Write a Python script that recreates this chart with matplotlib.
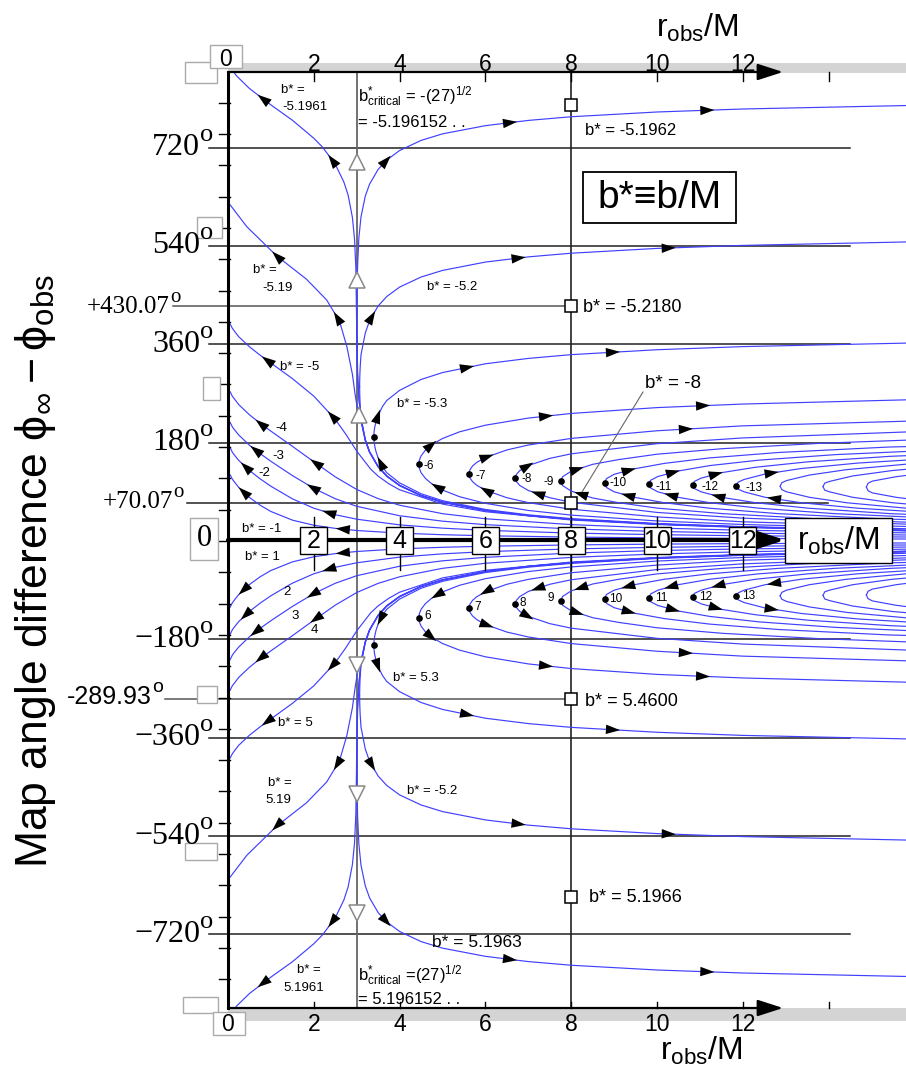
import numpy as np
import matplotlib.pyplot as plt
from matplotlib.patches import Rectangle

plt.rcParams['mathtext.fontset'] = 'custom'
plt.rcParams['mathtext.rm'] = 'Liberation Sans'
plt.rcParams['mathtext.it'] = 'Liberation Sans:italic'
plt.rcParams['mathtext.bf'] = 'Liberation Sans:bold'

SANS = ['Liberation Sans', 'DejaVu Sans']
SERIF = ['Liberation Serif', 'DejaVu Serif']
BLUE = '#4040ff'

# light paths for b* < 0 (upper half), points are (r_obs/M, map angle in degrees)
# the lower half of the chart (b* > 0) is the mirror image
# paths that fall into r = 0, listed from small r outwards
b1 = [(0.05, 121), (0.1, 113.3), (0.15, 108), (0.25, 98), (0.5, 79.7), (0.75, 65.4), (1, 54), (1.5, 38.2),
      (2, 28.9), (2.5, 23.1), (3, 19.2), (4, 14.4), (5, 11.5), (6, 9.6), (8, 7.2), (10, 5.7), (12, 4.8), (15.8, 3.6)]
b2 = [(0.05, 171), (0.1, 162.6), (0.15, 157.2), (0.25, 147.5), (0.5, 128.9), (0.75, 113.7), (1, 100.2), (1.5, 77.2),
      (2, 60), (2.5, 48.1), (3, 39.9), (4, 29.5), (5, 23.5), (6, 19.5), (8, 14.5), (10, 11.6), (12, 9.6), (15.8, 7.3)]
b3 = [(0.05, 217), (0.1, 209), (0.15, 203.7), (0.25, 194), (0.5, 175.2), (0.75, 159.8), (1, 145.8), (1.5, 119.8),
      (2, 96.3), (2.5, 77.4), (3, 63.5), (4, 46.2), (5, 36.3), (6, 29.9), (8, 22.1), (10, 17.5), (12, 14.5), (15.8, 11)]
b4 = [(0.05, 273), (0.1, 265), (0.15, 260), (0.25, 249.6), (0.5, 231), (0.75, 215.2), (1, 201), (1.5, 173.3),
      (2, 145), (2.5, 117.4), (3, 94.3), (3.5, 77.5), (4, 65.5), (5, 50), (6, 40.7), (8, 30), (10, 23.7), (12, 19.7),
      (15.8, 14.9)]
b5 = [(0.05, 397), (0.1, 389.4), (0.15, 384), (0.25, 373.8), (0.5, 355.4), (0.75, 339.9), (1, 325.6), (1.5, 297.2),
      (2, 265.1), (2.5, 222.5), (2.75, 195), (3, 164.5), (3.33, 131.1), (3.5, 118.7), (3.75, 104.7), (4, 93.7),
      (5, 67.6), (6, 53.6), (8, 38.5), (10, 30.2), (12, 24.7), (15.8, 18.5)]
b5_19 = [(0.05, 615), (0.44, 575), (1.13, 522), (1.83, 479), (2.3, 441), (2.6, 402), (2.77, 356), (2.9, 305),
         (2.96, 270), (3.02, 240), (3.1, 219), (3.2, 184), (3.3, 162.3), (3.5, 135.6), (3.7, 118.5), (4, 101.3),
         (4.5, 83), (5, 71), (6, 55.8), (7, 46.3), (8, 39.6), (10, 30.9), (12, 25.4), (15.8, 19.1)]
b5_1961 = [(0.1, 862), (0.2, 851), (0.5, 828), (1, 798), (1.5, 770), (2, 737), (2.2, 721), (2.5, 689.5), (2.7, 657),
           (2.8, 633), (2.9, 592), (2.95, 552), (2.98, 500), (2.995, 420), (3.005, 340), (3.02, 300), (3.05, 262),
           (3.1, 223), (3.2, 184.7), (3.3, 162.7), (3.5, 135.9), (3.7, 118.8), (4, 101.5), (4.5, 83.2), (5, 71.1),
           (6, 55.9), (7, 46.4), (8, 39.7), (10, 31), (12, 25.5), (15.8, 19.2)]

# paths with a turning point: incoming branch and outgoing branch, both from the turning point outwards
b5_1962_in = [(3.007, 408), (3.01, 365), (3.02, 314), (3.05, 262), (3.1, 223), (3.2, 184.7), (3.3, 162.7),
              (3.5, 135.9), (3.7, 118.8), (4, 101.5), (4.5, 83.2), (5, 71.1), (6, 55.9), (7, 46.4), (8, 39.7),
              (10, 31), (12, 25.5), (15.8, 19.2)]
b5_1962_out = [(3.007, 408), (3.01, 451), (3.02, 502), (3.05, 554), (3.1, 593), (3.2, 631), (3.3, 653), (3.5, 680),
               (3.7, 697), (4, 714.5), (4.5, 733), (5, 745), (6, 760), (7, 769.6), (8, 776.3), (10, 785),
               (12, 790.5), (15.8, 796.8)]
b5_2_in = [(3.068, 283), (3.072, 266), (3.08, 250), (3.1, 226), (3.2, 186), (3.3, 163.5), (3.5, 136.5), (3.7, 119.3),
           (4, 102), (4.5, 83.6), (5, 71.5), (6, 56.2), (7, 46.7), (8, 40), (10, 31.2), (12, 25.7), (15.8, 19.4)]
b5_2_out = [(3.068, 283), (3.072, 300.6), (3.08, 316.6), (3.1, 340.6), (3.2, 380.6), (3.3, 403.1), (3.5, 430.1),
            (3.7, 447.3), (4, 464.6), (4.5, 483), (5, 495.1), (6, 510.4), (7, 519.9), (8, 526.6), (10, 535.4),
            (12, 540.9), (15.8, 547.2)]
b5_3_in = [(3.40, 191), (3.405, 182), (3.42, 174), (3.45, 163.5), (3.5, 152), (3.6, 136), (3.7, 125), (4, 106.3),
           (4.5, 86.5), (5, 73.8), (6, 57.7), (7, 47.9), (8, 41), (10, 32), (12, 26.3), (15.8, 19.9)]
b5_3_out = [(3.40, 191), (3.405, 200), (3.42, 208), (3.45, 218.5), (3.5, 230), (3.6, 246), (3.7, 257), (4, 275.7),
            (4.5, 295.5), (5, 308.2), (6, 324.3), (7, 334.1), (8, 341), (10, 350), (12, 355.7), (15.8, 362.1)]
b6_in = [(4.448, 140.4), (4.46, 133.1), (4.5, 125.1), (4.6, 114.7), (4.75, 104.6), (5, 93.2), (5.4, 81), (6, 68.9),
         (7, 55.9), (8, 47.4), (10, 36.7), (12, 30.2), (15.8, 22.5)]
b6_out = [(4.448, 140.4), (4.46, 147.7), (4.5, 155.7), (4.6, 166.1), (4.75, 176.2), (5, 187.6), (5.4, 199.8),
          (6, 211.9), (7, 224.9), (8, 233.4), (10, 244.1), (12, 250.6), (15.8, 258.3)]
b7_in = [(5.618, 122.9), (5.64, 115.5), (5.7, 108.6), (5.8, 101.9), (6, 93), (6.5, 79.2), (7, 70.2), (8, 58.1),
         (10, 44.1), (12, 35.1), (15.8, 26.6)]
b7_out = [(5.618, 122.9), (5.64, 130.3), (5.7, 137.2), (5.8, 143.9), (6, 152.8), (6.5, 166.6), (7, 175.6),
          (8, 187.7), (10, 201.7), (12, 210.7), (15.8, 219.2)]
b8_in = [(6.70, 115.2), (6.72, 108.9), (6.8, 101.7), (7, 92.4), (7.5, 79.2), (8, 70.9), (10, 52.3), (12, 41.8),
         (15.8, 30.9)]
b8_out = [(6.70, 115.2), (6.72, 121.5), (6.8, 128.7), (7, 138), (7.5, 151.2), (8, 159.5), (10, 178.1), (12, 188.6),
          (15.8, 199.5)]
b9_in = [(7.752, 109.5), (7.8, 101.4), (8, 91.3), (8.5, 78.7), (9.11, 70), (10, 60.2), (11.54, 50), (13.87, 40),
         (15.8, 34.5)]
b9_out = [(7.752, 109.5), (7.8, 117.6), (8, 127.7), (8.5, 140.3), (9.11, 149), (10, 158.8), (11.54, 169),
          (13.87, 179), (15.8, 184.5)]
b10_in = [(8.78, 106), (8.82, 98), (9.0, 90), (9.47, 80), (10.17, 70), (11.22, 60), (12.84, 50), (15.42, 40),
          (15.8, 39.3)]
b10_out = [(8.78, 106), (8.82, 114), (9.0, 122), (9.47, 132), (10.17, 142), (11.22, 152), (12.84, 162),
           (15.42, 172), (15.8, 172.7)]
b11_in = [(9.81, 104), (9.85, 97), (10.02, 90), (10.49, 80), (11.23, 70), (12.38, 60), (14.15, 50), (15.8, 44.2)]
b11_out = [(9.81, 104), (9.85, 111), (10.02, 118), (10.49, 128), (11.23, 138), (12.38, 148), (14.15, 158),
           (15.8, 163.8)]
b12_in = [(10.83, 102.5), (10.87, 96), (11.03, 90), (11.5, 80), (12.3, 70), (13.53, 60), (15.45, 50), (15.8, 48.9)]
b12_out = [(10.83, 102.5), (10.87, 109), (11.03, 115), (11.5, 125), (12.3, 135), (13.53, 145), (15.45, 155),
           (15.8, 156.1)]
b13_in = [(11.85, 101.3), (11.89, 95), (12.03, 90), (12.52, 80), (13.36, 70), (14.68, 60), (15.8, 54.6)]
b13_out = [(11.85, 101.3), (11.89, 107.6), (12.03, 112.6), (12.52, 122.6), (13.36, 132.6), (14.68, 142.6),
           (15.8, 148)]
b14_in = [(12.87, 100.3), (12.91, 94), (13.02, 90), (13.55, 80), (14.42, 70), (15.8, 60.1)]
b14_out = [(12.87, 100.3), (12.91, 106.6), (13.02, 110.6), (13.55, 120.6), (14.42, 130.6), (15.8, 140.5)]
b15_in = [(13.87, 99.5), (13.91, 93), (14.02, 90), (14.56, 80), (15.49, 70), (15.8, 67.9)]
b15_out = [(13.87, 99.5), (13.91, 106), (14.02, 109), (14.56, 119), (15.49, 129), (15.8, 131.1)]
b16_in = [(14.88, 98.8), (14.92, 92), (15.02, 88), (15.57, 80), (15.8, 77.7)]
b16_out = [(14.88, 98.8), (14.92, 105.6), (15.02, 109.6), (15.57, 117.6), (15.8, 119.9)]

# marked values on the r = 8 line and on the r = 3 line
r8_marks = [797.8, 430.07, 70.07, -289.93, -651.4]
r3_up = [(3.0, 693), (3.0, 478), (3.06, 230)]
r3_down = [(3.0, -227), (3.0, -463), (3.0, -681)]
angle_lines = [720, 540, 360, 180, -180, -360, -540, -720]
angle_labels = ['720', '540', '360', '180', '\u2212180', '\u2212360', '\u2212540', '\u2212720']
r_ticks = [2, 4, 6, 8, 10, 12]

falling = [b1, b2, b3, b4, b5, b5_19, b5_1961]
turning = [(b5_1962_in, b5_1962_out), (b5_2_in, b5_2_out), (b5_3_in, b5_3_out), (b6_in, b6_out), (b7_in, b7_out),
           (b8_in, b8_out), (b9_in, b9_out), (b10_in, b10_out), (b11_in, b11_out), (b12_in, b12_out),
           (b13_in, b13_out), (b14_in, b14_out), (b15_in, b15_out), (b16_in, b16_out)]

# ---------------- layout: original pixel grid ----------------
X0, SX, Y0, SY = 228, 42.9, 541, 0.5465


def px(x, y):
    return (x - X0) / SX, (Y0 - y) / SY


fig = plt.figure(figsize=(9.06, 10.71), dpi=100)
ax = fig.add_axes([0, 0, 1, 1])
ax.set_xlim(-X0 / SX, (906 - X0) / SX)
ax.set_ylim((Y0 - 1071) / SY, Y0 / SY)
ax.axis('off')

top = px(0, 72)[1]
bot = px(0, 1008)[1]
clip = Rectangle((0, bot), 17, top - bot, transform=ax.transData)


def path(pts, sign):
    r = [p[0] for p in pts]
    a = [sign * p[1] for p in pts]
    ln, = ax.plot(r, a, color=BLUE, lw=0.85, zorder=2, solid_joinstyle='round')
    ln.set_clip_path(clip)


def head(pts, sign, r_at, step):
    r = np.array([p[0] for p in pts])
    a = sign * np.array([p[1] for p in pts])
    i = int(np.clip(np.searchsorted(r, r_at), 1, len(r) - 1))
    t = (r_at - r[i - 1]) / (r[i] - r[i - 1])
    xy = np.array([r_at, a[i - 1] + t * (a[i] - a[i - 1])])
    p0, p1 = ax.transData.transform([(r[i - 1], a[i - 1]), (r[i], a[i])])
    d = (p1 - p0) * step
    d = d / np.hypot(*d)
    c = ax.transData.transform(xy)
    inv = ax.transData.inverted()
    ax.annotate('', xy=inv.transform(c + 6 * d), xytext=inv.transform(c - 7 * d),
                arrowprops=dict(arrowstyle='-|>,head_length=0.6,head_width=0.2', mutation_scale=17,
                                color='black', lw=0, shrinkA=0, shrinkB=0), zorder=5)


# arrow positions (r values) along each path
falling_heads = [[0.35, 2.65], [0.4, 2.33], [0.63, 1.96], [0.75, 2.03], [0.9, 2.42], [1.13, 2.54], [0.8, 2.42]]
in_heads = [[], [], [3.55], [4.86], [6.0], [7.2], [8.2], [9.3], [10.3], [11.4], [12.7], [], [], []]
out_heads = [[3.7, 6.6, 11.2], [3.36, 6.8, 10.3], [3.5, 5.6, 9.0], [4.75, 7.44, 11.1], [6.06, 10.7], [7.0],
             [8.16], [9.37], [10.4], [11.4], [12.7], [], [], []]

for sign in (1, -1):
    for pts, hs in zip(falling, falling_heads):
        path(pts, sign)
        for h in hs:
            head(pts, sign, h, -1)
    for k, ((p_in, p_out), hi, ho) in enumerate(zip(turning, in_heads, out_heads)):
        path(p_in, sign)
        path(p_out, sign)
        for h in hi:
            head(p_in, sign, h, -1)
        for h in ho:
            head(p_out, sign, h, 1)
        if 2 <= k <= 10:
            ax.plot(p_in[0][0], sign * p_in[0][1], 'o', color='black', ms=3.8, zorder=5)


# ---------------- reference lines ----------------
def hline(phi, x0, x1, color='#222222', lw=1.1):
    ax.plot([px(x0, 0)[0], px(x1, 0)[0]], [phi, phi], color=color, lw=lw, zorder=1)


for a in angle_lines:
    hline(a, 209, 850)
hline(70.07, 187, 828)
hline(430.07, 173, 571, '#555555')
hline(-289.93, 165, 571, '#555555')

ax.plot([3, 3], [bot, top], color='#666666', lw=1.3, zorder=1)
ax.plot([8, 8], [bot, top], color='#222222', lw=1.2, zorder=1)
ax.plot([8] * len(r8_marks), r8_marks, 's', ms=8, mfc='white', mec='black', mew=1.1, zorder=6)
ax.plot([p[0] for p in r3_up], [p[1] for p in r3_up], '^', ms=12, mfc='white', mec='#888888', mew=1.1, zorder=6)
ax.plot([p[0] for p in r3_down], [p[1] for p in r3_down], 'v', ms=12, mfc='white', mec='#888888', mew=1.1,
        zorder=6)
ax.plot([px(582, 0)[0], px(643, 0)[0]], [px(0, 492)[1], px(0, 392)[1]], color='#666666', lw=0.8, zorder=3)

# ---------------- axes ----------------
ax.add_patch(Rectangle(px(228, 73), px(906, 0)[0], 10 / SY, fc='#d4d4d4', ec='none', zorder=0))
ax.add_patch(Rectangle(px(228, 1021), px(906, 0)[0], 13 / SY, fc='#d4d4d4', ec='none', zorder=0))
ax.plot([0, 0], [bot, top], color='black', lw=2.2, zorder=4)
arrow_kw = dict(arrowstyle='-|>,head_length=1.3,head_width=0.42', mutation_scale=12, color='black', lw=1.6,
                shrinkA=0, shrinkB=0)
ax.annotate('', xy=px(783, 72), xytext=px(228, 72), arrowprops=arrow_kw, zorder=4)
ax.annotate('', xy=px(783, 1008), xytext=px(228, 1008), arrowprops=arrow_kw, zorder=4)
arrow_kw2 = dict(arrow_kw, lw=3)
ax.annotate('', xy=px(785, 540), xytext=px(228, 540), arrowprops=arrow_kw2, zorder=4)

for k in range(1, 8):
    r = 2 * k
    ax.plot([r, r], [top, px(0, 81)[1]], color='black', lw=1, zorder=4)
    ax.plot([r, r], [bot, px(0, 1002)[1]], color='black', lw=1, zorder=4)
for k in range(1, 7):
    ax.text(2 * k, px(0, 71)[1], str(2 * k), fontsize=16.5, family=SANS, ha='center', va='baseline', zorder=6)
    ax.text(2 * k, px(0, 1031)[1], str(2 * k), fontsize=16.5, family=SANS, ha='center', va='baseline', zorder=6)

for k in range(-14, 15):
    a = k * 180 / np.pi
    if abs(a) < top:
        ax.plot([px(219, 0)[0], px(230, 0)[0]], [a, a], color='black', lw=1, zorder=4)

for r in r_ticks:
    ax.plot([r, r], [px(0, 517)[1], px(0, 570)[1]], color='black', lw=1, zorder=4)


def box(x0, y0, x1, y1, ec='black', lw=1.0):
    (a, b), (c, d) = px(x0, y1), px(x1, y0)
    ax.add_patch(Rectangle((a, b), c - a, d - b, fc='white', ec=ec, lw=lw, zorder=5))


for r in r_ticks:
    cx = X0 + SX * r
    box(cx - 13.5, 527, cx + 13.5, 554)
    ax.text(r, px(0, 541)[1], str(r), fontsize=18, family=SANS, ha='center', va='center', zorder=6)

box(785, 518, 892, 563)
ax.text(*px(838, 541), r'r$_{\mathregular{obs}}$/M', fontsize=23, family=SANS, ha='center', va='center', zorder=6)
box(583, 172, 736, 223, lw=1.3)
ax.text(*px(660, 198), 'b*\u2261b/M', fontsize=28, family=SANS, ha='center', va='center', zorder=6)
ax.text(*px(697, 37), r'r$_{\mathregular{obs}}$/M', fontsize=23, family=SANS, ha='center', va='baseline', zorder=6)
ax.text(*px(701, 1060), r'r$_{\mathregular{obs}}$/M', fontsize=23, family=SANS, ha='center', va='baseline',
        zorder=6)

# grey empty frames left over in the original
for b in [(185, 62, 217, 83), (197, 217, 222, 238), (203, 377, 220, 400), (197, 686, 217, 703),
          (185, 843, 217, 860), (183, 997, 218, 1013)]:
    box(*b, ec='#aaaaaa')
box(210, 45, 242, 68, ec='#aaaaaa')
ax.text(*px(226, 66), '0', fontsize=16.5, family=SANS, ha='center', va='baseline', zorder=6)
box(213, 1012, 245, 1035, ec='#aaaaaa')
ax.text(*px(228, 1031), '0', fontsize=16.5, family=SANS, ha='center', va='baseline', zorder=6)
box(190, 518, 218, 560, ec='#aaaaaa')
ax.text(*px(204, 539), '0', fontsize=22, family=SERIF, ha='center', va='center', zorder=6)


# angle labels: number plus a raised "o"
def angle_label(text, x_right, y, size, fam, o_size):
    ax.text(*px(x_right, y), text, fontsize=size, family=fam, ha='right', va='center', zorder=6)
    ax.text(*px(x_right, y - 0.55 * size), 'o', fontsize=o_size, family=fam, ha='left', va='center', zorder=6)


for a, lab in zip(angle_lines, angle_labels):
    angle_label(lab, 200, Y0 - a * SY, 23, SERIF, 19)
angle_label('+430.07', 170, 307, 18, SERIF, 15)
angle_label('+70.07', 173, 502, 18, SERIF, 15)
angle_label('-289.93', 152, 697, 18, SANS, 14)

ax.text(*px(36, 571), r'Map angle difference $\mathregular{\phi_\infty - \phi_{obs}}$', fontsize=32, family=SANS,
        rotation=90, ha='center', va='center', zorder=6)

# path labels
small = [('b* =', 281, 90), ('-5.1961', 282, 107), ('b* =', 253, 270), ('-5.19', 262, 288),
         ('b* = -5.2', 427, 287), ('b* = -5', 280, 367), ('-4', 275, 428), ('-3', 272, 456), ('-2', 258, 473),
         ('b* = -1', 242, 529), ('b* = -5.3', 397, 404),
         ('b* = 1', 245, 557), ('2', 283, 592), ('3', 291, 616), ('4', 311, 630), ('b* = 5.3', 393, 678),
         ('b* = 5', 278, 723), ('b* =', 268, 783), ('5.19', 265, 800), ('b* = -5.2', 407, 791),
         ('b* =', 297, 970), ('5.1961', 283, 988)]
for s, x, y in small:
    ax.text(*px(x, y), s, fontsize=9.5, family=SANS, ha='left', va='center', zorder=6)
tiny = [('-6', 424, 466), ('-7', 476, 476), ('-8', 521, 479), ('-9', 544, 482), ('-10', 610, 483),
        ('-11', 655, 487), ('-12', 701, 487), ('-13', 745, 488),
        ('6', 424, 616), ('7', 474, 607), ('8', 519, 603), ('9', 548, 598), ('10', 609, 599), ('11', 655, 598),
        ('12', 699, 597), ('13', 742, 596)]
for s, x, y in tiny:
    ax.text(*px(x, y), s, fontsize=8.5, family=SANS, ha='left', va='center', zorder=6)
big = [('b* = -5.1962', 585, 130, 12), ('b* = -5.2180', 583, 308, 13), ('b* = -8', 645, 383, 13.5),
       ('b* = 5.4600', 585, 701, 13), ('b* = 5.1966', 589, 897, 13), ('b* = 5.1963', 432, 943, 12.5)]
for s, x, y, f in big:
    ax.text(*px(x, y), s, fontsize=f, family=SANS, ha='left', va='center', zorder=6)
crit = [(r'b$^{*}_{\mathregular{critical}}$ = -(27)$^{\mathregular{1/2}}$', 358, 97),
        ('= -5.196152 . .', 358, 122),
        (r'b$^{*}_{\mathregular{critical}}$ =(27)$^{\mathregular{1/2}}$', 358, 976),
        ('= 5.196152 . .', 358, 1000)]
for s, x, y in crit:
    ax.text(*px(x, y), s, fontsize=12, family=SANS, ha='left', va='center', zorder=6)

fig.savefig('out.png', dpi=100)
